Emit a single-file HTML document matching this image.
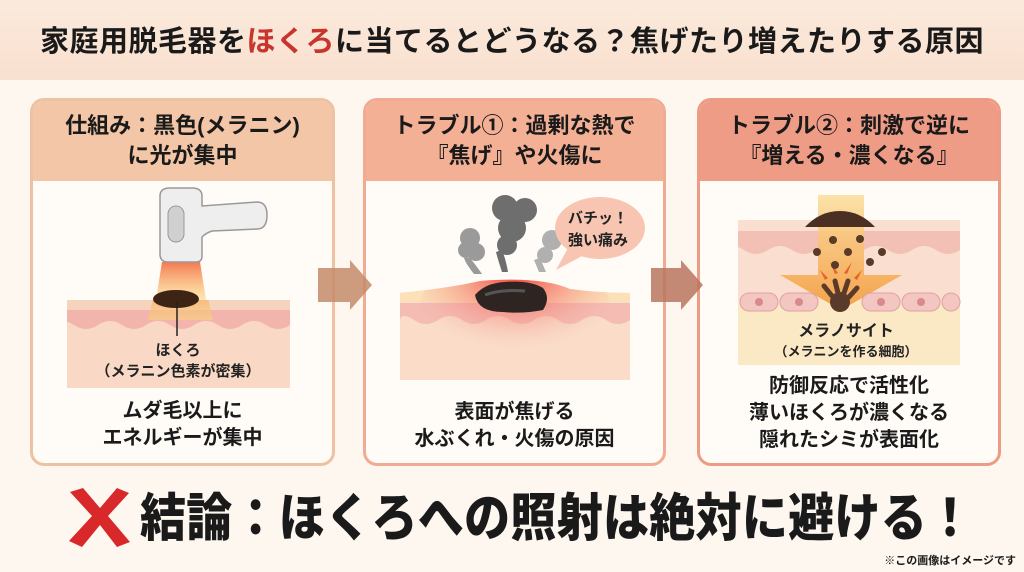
<!DOCTYPE html>
<html><head><meta charset="utf-8"><style>
*{margin:0;padding:0;box-sizing:border-box}
body{width:1024px;height:572px;overflow:hidden;background:#fdf7f0;font-family:"Liberation Sans","Noto Sans CJK JP",sans-serif;font-weight:bold;color:#1a1a1a;position:relative}
.top{position:absolute;left:0;top:0;width:1024px;height:80px;background:linear-gradient(#fbeadc,#f9e0cf)}
.title{position:absolute;left:0;top:22px;width:1024px;text-align:center;font-size:29px;letter-spacing:0.5px;line-height:40px}
.title span{color:#c8352d}
.card{position:absolute;top:98px;height:368px;border:3px solid;border-radius:14px;background:#fffbf7;overflow:hidden}
.hd{height:80px;text-align:center;font-size:22px;line-height:30px;padding-top:10px}
.c1{left:30px;width:305px;border-color:#eec1a3}.c1 .hd{background:#f2c6a6}
.c2{left:363px;width:303px;border-color:#f0ab92}.c2 .hd{background:#f4b095}
.c3{left:697px;width:304px;border-color:#ec9b85}.c3 .hd{background:#ef9c86}
.txt{position:absolute;left:0;width:100%;text-align:center;font-size:20px;line-height:27px}
svg{position:absolute;left:0;top:0}
.concl{position:absolute;left:140px;top:490px;font-size:46px;line-height:56px;font-weight:900;transform:scaleY(1.12);transform-origin:left center;letter-spacing:0.3px}
.note{position:absolute;right:8px;top:552px;font-size:11px}
</style></head><body>
<div class="top"></div>
<div class="title">家庭用脱毛器を<span>ほくろ</span>に当てるとどうなる？焦げたり増えたりする原因</div>

<div class="card c1"><div class="hd">仕組み：黒色(メラニン)<br>に光が集中</div>
<div class="txt" style="top:297px">ムダ毛以上に<br>エネルギーが集中</div></div>
<div class="card c2"><div class="hd">トラブル①：過剰な熱で<br>『焦げ』や火傷に</div>
<div class="txt" style="top:298px">表面が焦げる<br>水ぶくれ・火傷の原因</div></div>
<div class="card c3"><div class="hd">トラブル②：刺激で逆に<br>『増える・濃くなる』</div>
<div class="txt" style="top:272px">防御反応で活性化<br>薄いほくろが濃くなる<br>隠れたシミが表面化</div></div>

<svg width="1024" height="572" viewBox="0 0 1024 572">
<defs>
<linearGradient id="cone" x1="0" y1="0" x2="0" y2="1"><stop offset="0" stop-color="#f36b3c"/><stop offset="1" stop-color="#fbd67a" stop-opacity=".6"/></linearGradient>
<radialGradient id="burn" cx="0.5" cy="0.2" r="0.6"><stop offset="0" stop-color="#f23a32"/><stop offset="1" stop-color="#f6b3a6" stop-opacity="0"/></radialGradient>
<linearGradient id="arr" x1="0" y1="0" x2="0" y2="1"><stop offset="0" stop-color="#fbe0a0"/><stop offset="1" stop-color="#f39a3a"/></linearGradient>
<clipPath id="k1"><rect x="67" y="300" width="223" height="88"/></clipPath>
<clipPath id="k2"><path d="M400 293q50-5 80-12q60-5 90 8q30 4 60 4V380H400Z"/></clipPath>
<clipPath id="k3"><rect x="738" y="220" width="222" height="145"/></clipPath>
</defs>
<!-- card1 skin -->
<g clip-path="url(#k1)">
<rect x="67" y="300" width="223" height="88" fill="#f9d9c6"/>
<rect x="67" y="300" width="223" height="10" fill="#f6d3bd"/>
<path d="M40 310H290V325q-12 8-24 0t-24 0t-24 0t-24 0t-24 0t-24 0t-24 0t-24 0t-24 0t-24 0t-10 0Z" fill="#f2b4ac"/>
<path d="M162 262H200L213 320H148Z" fill="url(#cone)" opacity=".9"/>
</g>
<path d="M162 262H200L206 300H156Z" fill="url(#cone)" opacity=".9"/>
<ellipse cx="176" cy="299" rx="23" ry="9" fill="#3e2414"/>
<line x1="177" y1="302" x2="177" y2="336" stroke="#222" stroke-width="1.5"/>
<text x="178" y="355" font-size="15" text-anchor="middle" font-weight="bold" fill="#222">ほくろ</text>
<text x="178" y="376" font-size="15" text-anchor="middle" font-weight="bold" fill="#222">（メラニン色素が密集）</text>
<path d="M160 196q0-8 10-8h22q10 0 10 8v10l55-4q10 0 10 13q0 14-10 14l-45 2q-6 2-10 6v19q0 6-6 6h-28q-8 0-8-8Z" fill="#eeeeee" stroke="#999" stroke-width="1.5"/>
<rect x="168" y="206" width="16" height="36" rx="8" fill="#d0d0d0" stroke="#999"/>
<!-- arrows -->
<path d="M318 268h32v-8l22 25-22 25v-8h-32Z" fill="#c48b6a" opacity=".85"/>
<path d="M651 268h30v-8l22 25-22 25v-8h-30Z" fill="#b9755e" opacity=".85"/>
<!-- card2 -->
<g clip-path="url(#k2)">
<rect x="400" y="280" width="230" height="100" fill="#fadcc9"/>
<rect x="400" y="280" width="230" height="22" fill="#fbe0b8"/>
<path d="M400 303H630V320q-12 8-24 0t-24 0t-24 0t-24 0t-24 0t-24 0t-24 0t-24 0t-24 0t-14 0Z" fill="#f4bcb3"/>
<ellipse cx="515" cy="310" rx="95" ry="65" fill="url(#burn)"/>
</g>
<path d="M475 295q10-12 30-13q25-2 38 6q8 10 0 22q-20 4-40 2q-25 0-28-17Z" fill="#2e2523"/>
<path d="M485 295q15-6 40-4" stroke="#555" stroke-width="3" fill="none"/>
<g fill="#9a9a9a"><circle cx="470" cy="238" r="10"/><circle cx="476" cy="252" r="9"/><circle cx="466" cy="250" r="8"/><path d="M470 258q8 10 12 16h-8q-8-10-10-16Z"/></g>
<g fill="#6e6e6e"><circle cx="505" cy="208" r="13"/><circle cx="525" cy="210" r="12"/><circle cx="512" cy="228" r="14"/><circle cx="507" cy="245" r="10"/><path d="M502 250q4 10 6 22h-6q-4-12-6-20Z"/></g>
<g fill="#b0b0b0"><circle cx="552" cy="240" r="10"/><circle cx="545" cy="255" r="8"/><path d="M540 258l6 14h-7l-5-12Z"/></g>
<ellipse cx="600" cy="228" rx="45" ry="31" fill="#f7c5b2"/>
<path d="M568 248l-12 22 28-15Z" fill="#f7c5b2"/>
<text x="598" y="223" font-size="15" text-anchor="middle" font-weight="bold" fill="#222">バチッ！</text>
<text x="598" y="245" font-size="15" text-anchor="middle" font-weight="bold" fill="#222">強い痛み</text>
<!-- card3 -->
<g clip-path="url(#k3)">
<rect x="738" y="220" width="222" height="145" fill="#fbe9c6"/>
<rect x="738" y="220" width="222" height="80" fill="#fadfd0"/>
<path d="M738 231H960V250q-12 8-24 0t-24 0t-24 0t-24 0t-24 0t-24 0t-24 0t-24 0t-24 0t-24 0Z" fill="#f3c0b5"/>
</g>
<path d="M818 195h46v80h38l-61 35-61-35h38Z" fill="url(#arr)" opacity=".9"/>
<path d="M805 227q15-16 35-16t35 16Z" fill="#4a2f22"/>
<g fill="#f3c6c2" stroke="#e0a0a0"><rect x="740" y="293" width="38" height="18" rx="9"/><rect x="780" y="293" width="38" height="18" rx="9"/><rect x="862" y="293" width="38" height="18" rx="9"/><rect x="902" y="293" width="38" height="18" rx="9"/><rect x="942" y="293" width="18" height="18" rx="9"/></g>
<g fill="#d88a8a"><circle cx="759" cy="302" r="4"/><circle cx="799" cy="302" r="4"/><circle cx="881" cy="302" r="4"/><circle cx="921" cy="302" r="4"/></g>
<circle cx="840" cy="302" r="10" fill="#5a3a2a"/>
<path d="M832 296l-8-10M838 293l-3-12M844 293l4-12M849 297l8-9" stroke="#5a3a2a" stroke-width="5" stroke-linecap="round"/>
<g fill="#e8622a"><path d="M820 270l8 8-3 2Z"/><path d="M862 270l-8 8 3 2Z"/><path d="M830 262l5 12 3-1Z"/><path d="M852 262l-5 12-3-1Z"/></g>
<g fill="#5a3a28"><circle cx="833" cy="240" r="4"/><circle cx="860" cy="239" r="4"/><circle cx="817" cy="252" r="4"/><circle cx="848" cy="252" r="4"/><circle cx="882" cy="252" r="4"/><circle cx="835" cy="265" r="4"/><circle cx="870" cy="262" r="4"/></g>
<text x="846" y="336" font-size="16" text-anchor="middle" font-weight="bold" fill="#222">メラノサイト</text>
<text x="846" y="356" font-size="13" text-anchor="middle" font-weight="bold" fill="#222">（メラニンを作る細胞）</text>
<!-- X -->
<path d="M70 492L83 488L100 508L117 488L129 493L108 516L130 542L117 547L100 525L82 547L69 541L92 516Z" fill="#d9282a"/>
</svg>
<div class="concl">結論：ほくろへの照射は絶対に避ける！</div>
<div class="note">※この画像はイメージです</div>
</body></html>
